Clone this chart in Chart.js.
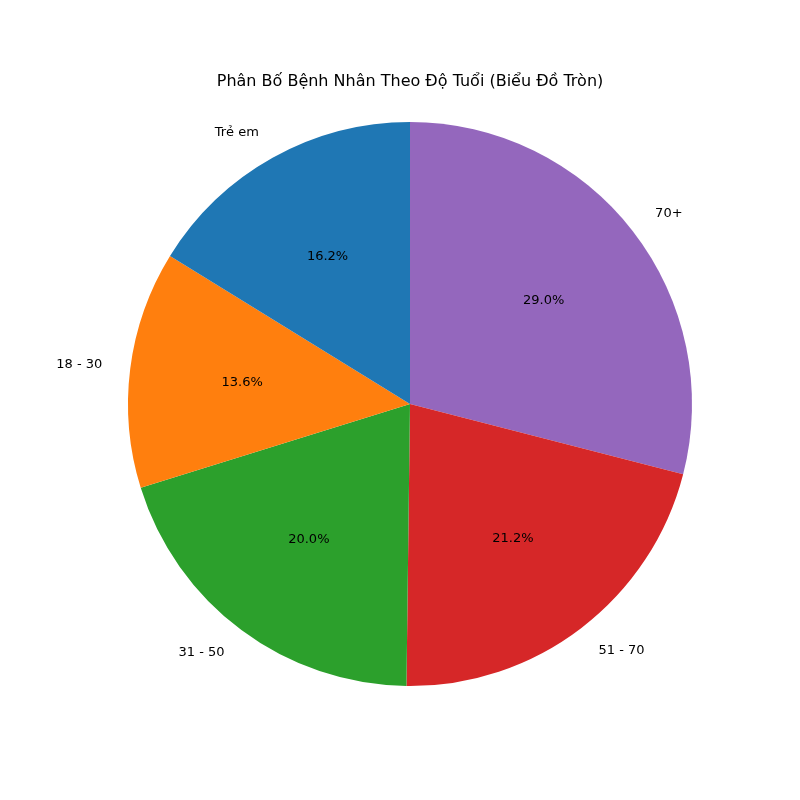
<!DOCTYPE html>
<html lang="vi">
<head>
<meta charset="UTF-8">
<title>Phân Bố Bệnh Nhân Theo Độ Tuổi</title>
<script src="https://cdn.jsdelivr.net/npm/chart.js"></script>
<style>
  html, body { margin: 0; padding: 0; background: #fff; }
  #wrap { width: 800px; height: 800px; }
</style>
</head>
<body>
<div id="wrap"><canvas id="pieChart" width="800" height="800"></canvas></div>
<script>
// matplotlib draws counter-clockwise from the top; Chart.js goes clockwise,
// so the order is reversed here
const labels = ['70+', '51 - 70', '31 - 50', '18 - 30', 'Trẻ em'];
const values = [29.0, 21.2, 20.0, 13.6, 16.2];
const colors = ['#9467bd', '#d62728', '#2ca02c', '#ff7f0e', '#1f77b4'];
const chartTitle = 'Phân Bố Bệnh Nhân Theo Độ Tuổi (Biểu Đồ Tròn)';

const font = '"DejaVu Sans", sans-serif';

const textPlugin = {
    id: 'pieText',
    afterDraw(chart) {
        const ctx = chart.ctx;
        ctx.save();
        ctx.fillStyle = '#000';
        ctx.font = '16px ' + font;
        ctx.textAlign = 'center';
        ctx.textBaseline = 'middle';
        ctx.fillText(chartTitle, 410, 82);

        const total = values.reduce((a, b) => a + b, 0);
        chart.getDatasetMeta(0).data.forEach((arc, i) => {
            const mid = (arc.startAngle + arc.endAngle) / 2;
            const r = arc.outerRadius;
            const cx = arc.x, cy = arc.y;
            ctx.font = '13px ' + font;
            // percentage inside
            ctx.textAlign = 'center';
            ctx.fillText((values[i] / total * 100).toFixed(1) + '%',
                cx + Math.cos(mid) * r * 0.6, cy + Math.sin(mid) * r * 0.6);
            // label outside
            const lx = cx + Math.cos(mid) * r * 1.1;
            const ly = cy + Math.sin(mid) * r * 1.1;
            ctx.textAlign = lx < cx ? 'right' : 'left';
            ctx.fillText(labels[i], lx, ly);
        });
        ctx.restore();
    }
};

new Chart(document.getElementById('pieChart'), {
    type: 'pie',
    data: {
        labels: labels,
        datasets: [{
            data: values,
            backgroundColor: colors,
            borderWidth: 0
        }]
    },
    options: {
        responsive: false,
        animation: false,
        layout: { padding: { left: 128, right: 108, top: 122, bottom: 114 } },
        plugins: {
            legend: { display: false },
            title: { display: false },
            tooltip: { enabled: false }
        }
    },
    plugins: [textPlugin]
});
</script>
</body>
</html>
